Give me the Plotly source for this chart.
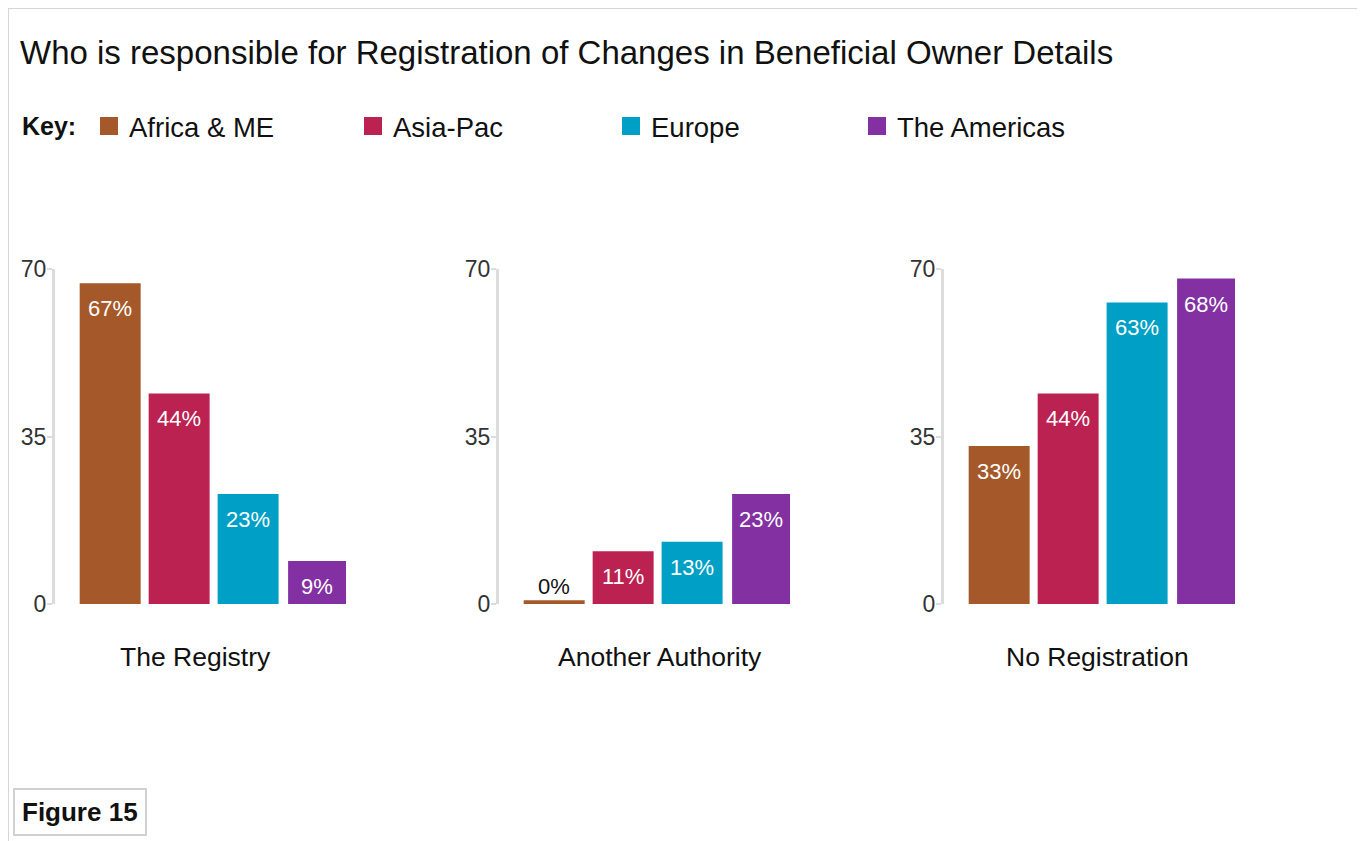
import plotly.graph_objects as go

# ---------------- data ----------------
regions = ["Africa & ME", "Asia-Pac", "Europe", "The Americas"]
region_colors = ["#A5592A", "#BB2151", "#00A0C6", "#8331A2"]
categories = ["The Registry", "Another Authority", "No Registration"]

registry = [67, 44, 23, 9]
another_authority = [0.8, 11, 13, 23]
no_registration = [33, 44, 63, 68]

registry_labels = ["67%", "44%", "23%", "9%"]
another_authority_labels = ["0%", "11%", "13%", "23%"]
no_registration_labels = ["33%", "44%", "63%", "68%"]

y_ticks = [0, 35, 70]

title_text = "Who is responsible for Registration of Changes in Beneficial Owner Details"
key_text = "Key:"
figure_label = "Figure 15"

panel_values = [registry, another_authority, no_registration]
panel_labels = [registry_labels, another_authority_labels, no_registration_labels]

# ---------------- layout helpers ----------------
W, H = 1365, 841
OFF = 8  # page body margin
FONT = "Liberation Sans, Arial, Helvetica, sans-serif"
AXIS_GREY = "#dcdcdc"


def px_x(p):
    return (p - OFF) / W


def px_y(p):
    return 1 - (p - OFF) / H


panel_left = [55, 499, 944]
panel_width = 300
plot_top, plot_bottom = 269, 604
label_centers = [195, 660, 1097]
legend_x = [89, 353, 611, 857]
bar_widths = [0.884, 0.884, 0.884, 0.84]

fig = go.Figure()

for p, (vals, labs) in enumerate(zip(panel_values, panel_labels)):
    ax = "" if p == 0 else str(p + 1)
    for r, reg in enumerate(regions):
        fig.add_trace(go.Bar(
            x=[reg], y=[vals[r]], width=[bar_widths[r]],
            marker=dict(color=region_colors[r], line=dict(width=0)),
            xaxis="x" + ax, yaxis="y" + ax,
            showlegend=False, legendgroup=reg, hoverinfo="skip",
        ))
        inside = vals[r] >= 5
        fig.add_annotation(
            xref="x" + ax, yref="y" + ax, x=reg, y=vals[r],
            text=labs[r], showarrow=False,
            yanchor="top" if inside else "bottom",
            yshift=-11 if inside else -1,
            font=dict(family=FONT, size=22, color="white" if inside else "#111"),
        )
    fig.update_layout({
        "xaxis" + ax: dict(
            domain=[px_x(panel_left[p]), px_x(panel_left[p] + panel_width)],
            anchor="y" + ax, type="category", range=[-0.8, 3.55],
            showticklabels=False, showline=False, showgrid=False, zeroline=False,
            ticks="", fixedrange=True, automargin=False,
        ),
        "yaxis" + ax: dict(
            domain=[px_y(plot_bottom), px_y(plot_top)],
            anchor="x" + ax, range=[0, 70], tickvals=y_ticks,
            showline=True, linecolor=AXIS_GREY, linewidth=3,
            ticks="outside", ticklen=5, tickwidth=2, tickcolor=AXIS_GREY,
            ticklabelstandoff=-4,
            showgrid=False, zeroline=False, automargin=False,
            tickfont=dict(family=FONT, size=23, color="#333"),
            fixedrange=True,
        ),
    })
    fig.add_annotation(
        xref="paper", yref="paper", x=px_x(label_centers[p]), y=px_y(657),
        text=categories[p], showarrow=False, xanchor="center", yanchor="middle",
        font=dict(family=FONT, size=26.5, color="#111"),
    )

# legend entries (one legend per region so each sits where the key shows it)
legend_names = ["legend", "legend2", "legend3", "legend4"]
for r, reg in enumerate(regions):
    fig.add_trace(go.Scatter(
        x=[None], y=[None], mode="markers", name=reg,
        marker=dict(symbol="square", size=16, color=region_colors[r],
                    line=dict(color=region_colors[r], width=2)),
        legendgroup=reg, showlegend=True, legend=legend_names[r],
    ))
    fig.update_layout({
        legend_names[r]: dict(
            orientation="h", x=px_x(legend_x[r]), y=px_y(126),
            xanchor="left", yanchor="middle",
            font=dict(family=FONT, size=27.5, color="#111"),
            bgcolor="rgba(0,0,0,0)", itemclick=False, itemdoubleclick=False,
        )
    })

fig.add_annotation(
    xref="paper", yref="paper", x=px_x(20), y=px_y(126),
    text="<b>" + key_text + "</b>", showarrow=False, xanchor="left", yanchor="middle",
    font=dict(family=FONT, size=25, color="#111"),
)

fig.add_annotation(
    xref="paper", yref="paper", x=px_x(80), y=px_y(812),
    text="<b>" + figure_label + "</b>", showarrow=False,
    xanchor="center", yanchor="middle",
    bordercolor="#d0d0d0", borderwidth=2, borderpad=7, bgcolor="white",
    font=dict(family=FONT, size=26, color="#111"),
)

# outer frame
fig.add_shape(type="rect", xref="paper", yref="paper",
              x0=px_x(8), x1=px_x(1360), y0=px_y(860), y1=px_y(8),
              line=dict(color="#d6d6d6", width=2), fillcolor="rgba(0,0,0,0)")

fig.update_layout(
    width=W, height=H,
    margin=dict(l=0, r=0, t=0, b=0, autoexpand=False),
    paper_bgcolor="white", plot_bgcolor="white",
    barmode="overlay",
    title=dict(text=title_text, x=px_x(20), xanchor="left",
               y=px_y(52), yanchor="middle",
               font=dict(family=FONT, size=33, color="#111")),
    showlegend=True,
)

fig.write_html("out.html")
